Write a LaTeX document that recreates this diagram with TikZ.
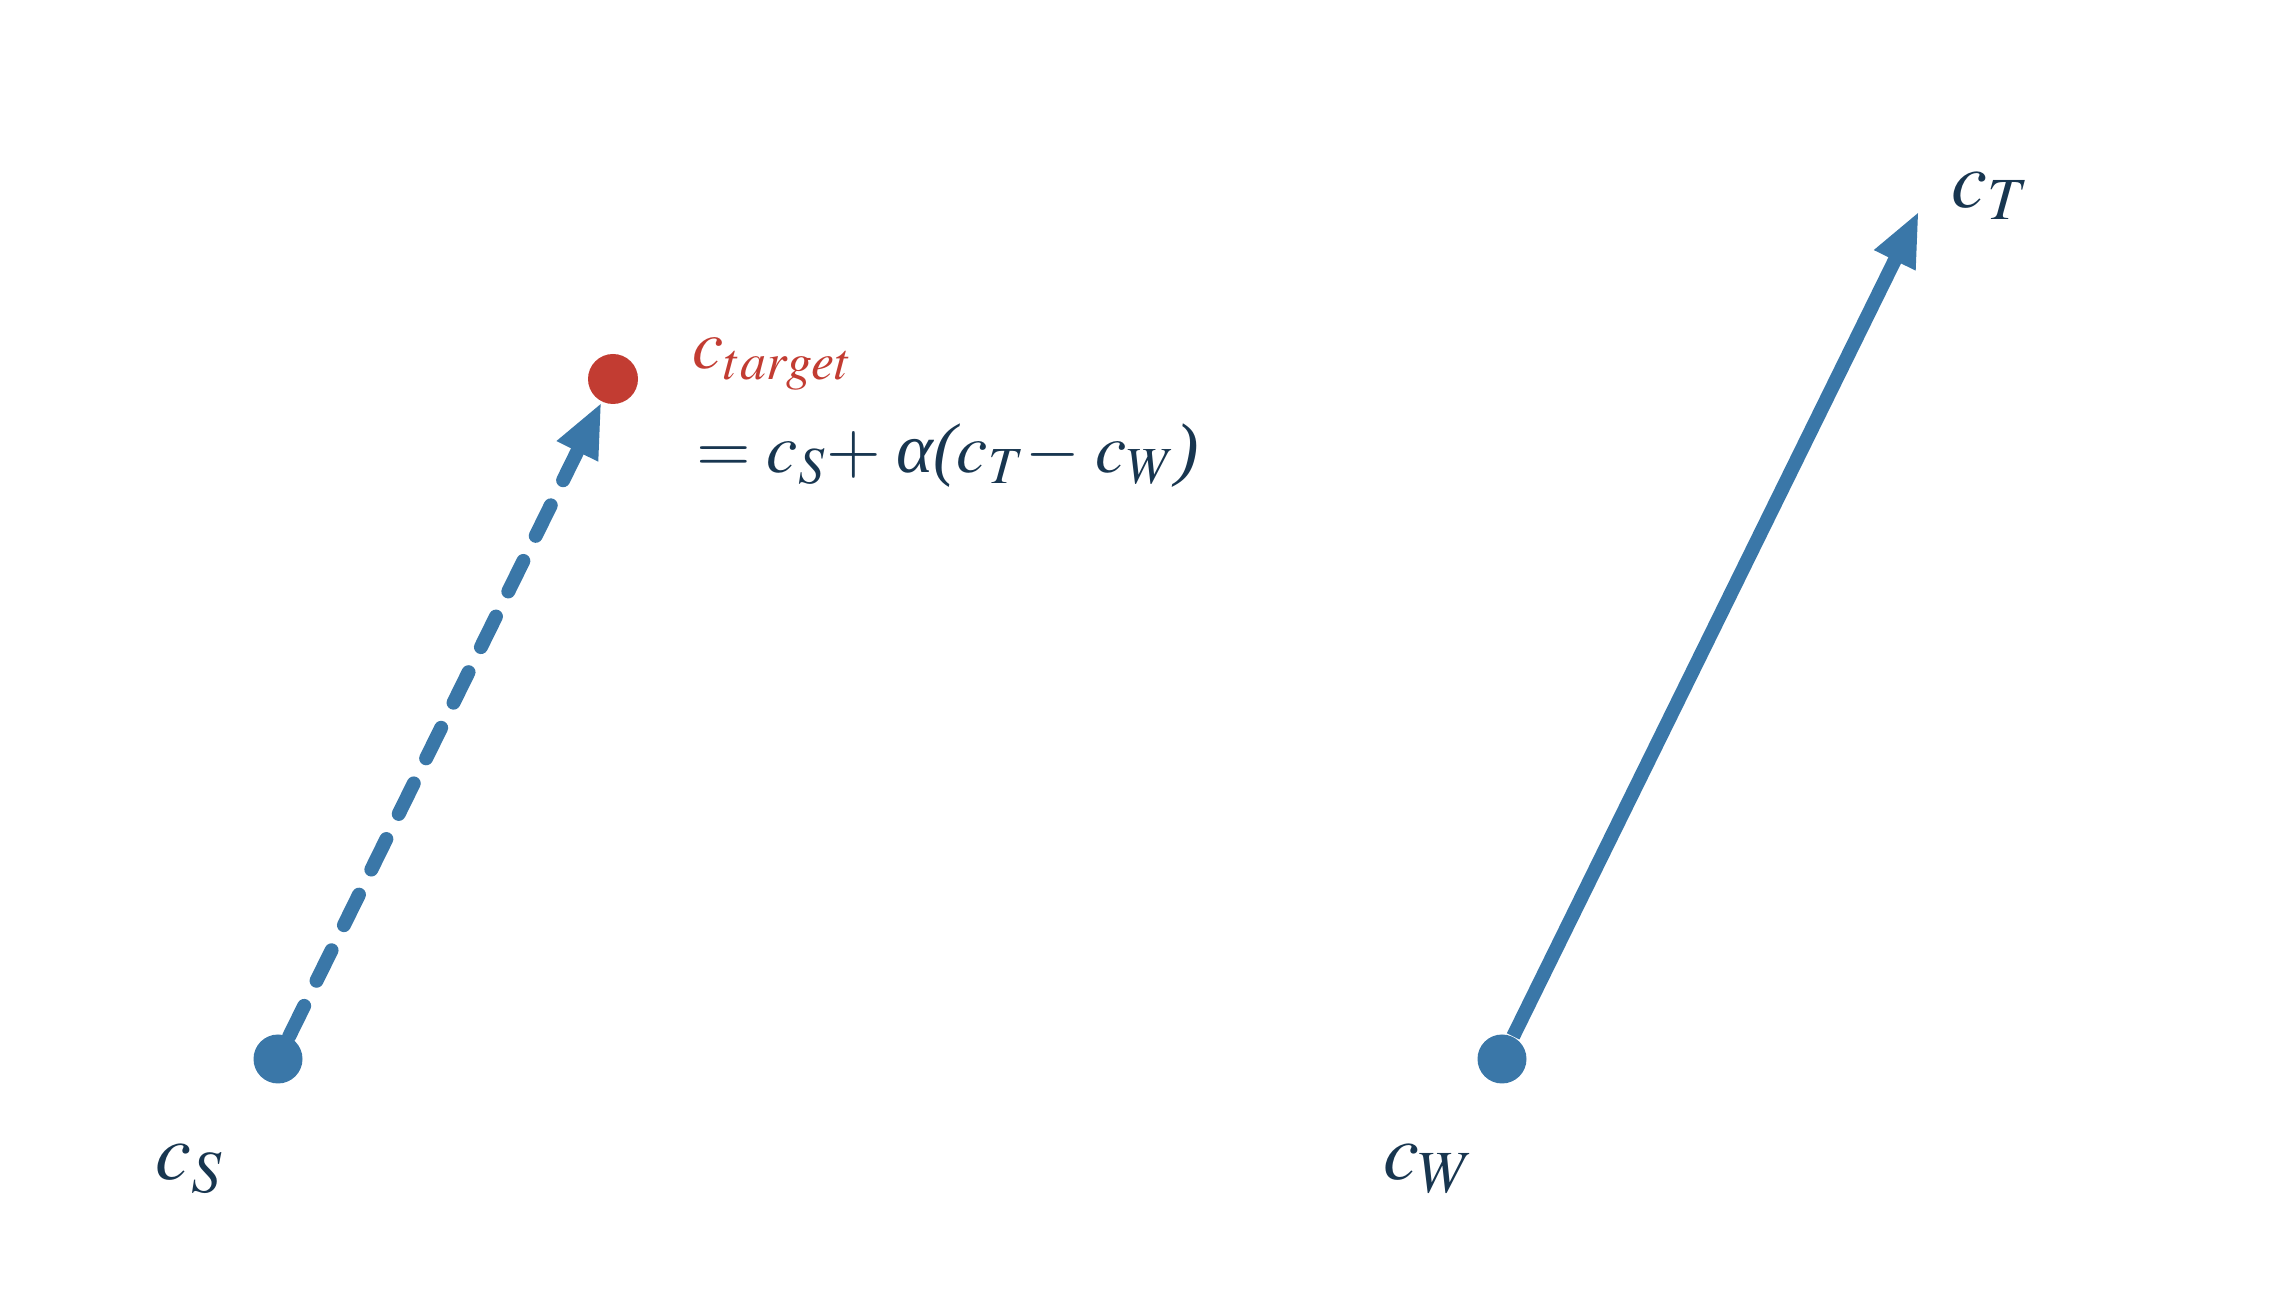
\documentclass[tikz,border=0pt]{standalone}
\usepackage{mathptmx}
\usepackage{fontspec}
\setmainfont{Liberation Serif}
\usepackage{tikz}
\usetikzlibrary{arrows.meta,positioning}
\definecolor{vecblue}{RGB}{58,119,168}
\definecolor{dotred}{RGB}{194,60,50}
\definecolor{inkblue}{RGB}{24,54,80}
\newcommand{\itx}[1]{\textit{#1}}
\begin{document}
\begin{tikzpicture}[
    every node/.style={text=inkblue, font=\fontsize{23}{27}\selectfont},
    pt/.style={circle, fill=vecblue, inner sep=0pt, minimum size=0.49cm},
    formula/.style={anchor=base west, inner sep=0pt, font=\fontsize{20}{24}\selectfont},
    vec/.style={vecblue, line width=0.14cm, -{Triangle[length=0.55cm,width=0.42cm]}},
    dashvec/.style={vec, line cap=round, dash pattern=on 0.34cm off 0.28cm}]
    \useasboundingbox (0,0) rectangle (22.8,12.9);
    % points
    \node[pt] (cs) at (2.78,2.31) {};
    \node[pt] (cw) at (15.02,2.31) {};
    \node[pt, fill=dotred, minimum size=0.5cm] (ctarget) at (6.13,9.11) {};
    \coordinate (ct) at (19.19,10.79);
    % vectors
    \draw[vec] (cw) -- (ct);
    \draw[dashvec] (cs) -- (ctarget);
    % labels
    \node (lcs) at (1.90,1.21) {$c_S$};
    \node (lcw) at (14.29,1.21) {$c_W$};
    \node (lct) at (19.91,10.94) {$c_T$};
    \node[formula, text=dotred] (lctarget) at (6.92,9.21) {$c_{target}$};
    \node[formula] (leq) at (6.96,8.17) {$\mathord{=}\;c_S{+}\;\itx{α}\itx{(}c_T{-}\;c_W\itx{)}$};
\end{tikzpicture}
\end{document}
